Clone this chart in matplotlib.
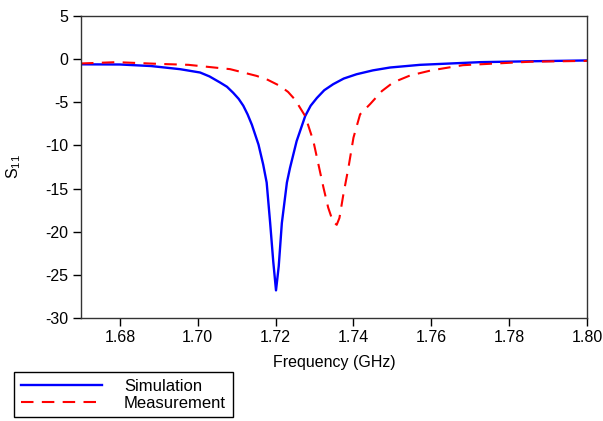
import matplotlib
matplotlib.use("Agg")
import matplotlib.pyplot as plt

# simulation (blue solid)
sim_f = [1.670, 1.680, 1.688, 1.6954, 1.7006, 1.7030, 1.7057, 1.7075, 1.7091,
         1.7105, 1.7117, 1.7128, 1.7139, 1.7156, 1.7168, 1.7177, 1.7186, 1.7194,
         1.7201, 1.7208, 1.7216, 1.7229, 1.7237, 1.7254, 1.7276, 1.7290, 1.7306,
         1.7325, 1.7348, 1.7375, 1.7408, 1.7450, 1.7494, 1.7571, 1.7725, 1.7850,
         1.8000]
sim_s11 = [-0.6, -0.62, -0.8, -1.16, -1.55, -2.0, -2.7, -3.2, -3.9,
           -4.6, -5.4, -6.4, -7.6, -9.9, -12.2, -14.3, -19.0, -23.5,
           -26.8, -24.0, -19.0, -14.3, -12.6, -9.5, -6.6, -5.4, -4.5,
           -3.6, -2.9, -2.25, -1.75, -1.3, -0.97, -0.66, -0.35, -0.25,
           -0.15]

# measurement (red dashed)
meas_f = [1.670, 1.6792, 1.690, 1.6976, 1.7083, 1.7151, 1.7180, 1.7211, 1.7232,
          1.7250, 1.7276, 1.7297, 1.7310, 1.7323, 1.7335, 1.7347, 1.7357, 1.7364,
          1.7374, 1.7387, 1.7400, 1.7417, 1.7443, 1.7473, 1.7502, 1.7545, 1.7600,
          1.7681, 1.7854, 1.8000]
meas_s11 = [-0.5, -0.35, -0.55, -0.66, -1.16, -1.94, -2.4, -3.1, -3.8,
            -4.7, -6.6, -9.5, -12.2, -14.9, -17.2, -18.8, -19.2, -18.4,
            -15.7, -12.6, -9.1, -6.4, -5.2, -3.7, -2.7, -1.9, -1.3,
            -0.7, -0.3, -0.2]

x_ticks = [1.68, 1.70, 1.72, 1.74, 1.76, 1.78, 1.80]
y_ticks = [-30, -25, -20, -15, -10, -5, 0, 5]

plt.rcParams['font.family'] = ['Liberation Sans', 'DejaVu Sans']
plt.rcParams['mathtext.default'] = 'regular'
plt.rcParams['axes.unicode_minus'] = False

fig = plt.figure(figsize=(6.03, 4.21), dpi=100)
ax = fig.add_axes([81/603, 1-318/421, (587-81)/603, (318-16)/421])

l1, = ax.plot(sim_f, sim_s11, color='#0000ff', lw=1.7, label='Simulation')
l2, = ax.plot(meas_f, meas_s11, color='#ff0000', lw=1.5, dashes=(6, 4), label='Measurement')

ax.set_xlim(1.67, 1.80)
ax.set_ylim(-30, 5)
ax.set_xticks(x_ticks)
ax.set_xticklabels(['%.2f' % v for v in x_ticks])
ax.set_yticks(y_ticks)
ax.tick_params(direction='out', length=5.5, width=1, labelsize=11.5, pad=3.5)
for s in ax.spines.values():
    s.set_linewidth(1)
    s.set_color('#333333')

ax.set_xlabel('Frequency (GHz)', fontsize=11.5, va='top')
ax.xaxis.set_label_coords(0.5, -0.122)
ax.set_ylabel('S$_{11}$', fontsize=11.5)
ax.yaxis.set_label_coords(-0.115, 0.5)

leg = fig.legend(handles=[l1, l2], loc='upper left',
                 bbox_to_anchor=(14/603, 1-372/421), fontsize=12,
                 frameon=True, fancybox=False, edgecolor='black',
                 framealpha=1, handlelength=4.9, handletextpad=1.3,
                 borderaxespad=0, borderpad=0.4, labelspacing=0.12)
leg.get_frame().set_linewidth(1)

fig.savefig('out.png', dpi=100)
